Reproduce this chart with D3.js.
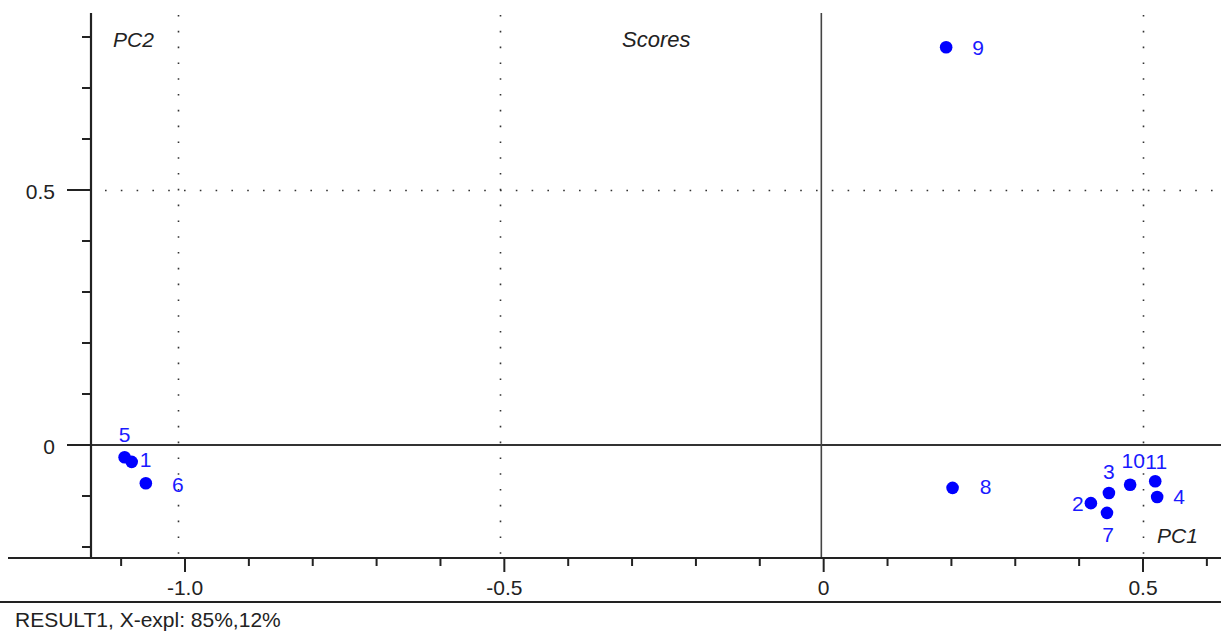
<!DOCTYPE html>
<html>
<head>
<meta charset="utf-8">
<script src="https://cdn.jsdelivr.net/npm/d3@7"></script>
<style>
  html, body { margin: 0; padding: 0; background: #fff; }
  svg { display: block; }
  text { font-family: "Liberation Sans", Arial, sans-serif; }
</style>
</head>
<body>
<svg id="chart" width="1221" height="634"></svg>
<script>
// PCA score plot: samples on PC1 / PC2
const sampleIds = ["1", "2", "3", "4", "5", "6", "7", "8", "9", "10", "11"];
const pc1Scores = [-1.072, 0.419, 0.447, 0.522, -1.083, -1.050, 0.444, 0.204, 0.194, 0.480, 0.519];
const pc2Scores = [-0.033, -0.114, -0.094, -0.102, -0.024, -0.075, -0.133, -0.084, 0.780, -0.078, -0.071];

// where each sample number sits relative to its dot, in pixels
const labelOffsets = [[14, -2], [-13, 0], [0, -22], [22, -1], [0, -23], [32, 1], [1, 22], [33, -1], [32, 0], [3, -24], [1, -20]];

const xMajorTicks = [-1.0, -0.5, 0, 0.5];
const xTickLabels = ["-1.0", "-0.5", "0", "0.5"];
const yMajorTicks = [0, 0.5];
const yTickLabels = ["0", "0.5"];
const gridX = [-1.0, -0.5, 0.5];
const gridY = [0.5];

const W = 1221, H = 634;
const plot = { left: 91, right: 1221, top: 13, bottom: 558 };
const axisColor = "#222";
const pointColor = "#0000ff";
const fs = 21;

const svg = d3.select("#chart");

// scale for the score area
const x = d3.scaleLinear().domain([-1, 0.5]).range([178, 1143]);
const y = d3.scaleLinear().domain([0, 0.5]).range([445, 190]);
// scale for the tick strip below the plot
const xAxisScale = d3.scaleLinear().domain([-1, 0.5]).range([185, 1143]);

// dotted grid
const grid = svg.append("g")
  .attr("stroke", "#333")
  .attr("stroke-width", 1.6)
  .attr("stroke-dasharray", "1.6 14.2");
grid.selectAll("line.gx").data(gridX).join("line")
  .attr("x1", d => Math.round(x(d)) + 0.5).attr("x2", d => Math.round(x(d)) + 0.5)
  .attr("y1", plot.top + 2).attr("y2", plot.bottom);
grid.selectAll("line.gy").data(gridY).join("line")
  .attr("x1", plot.left + 14).attr("x2", plot.right)
  .attr("y1", d => Math.round(y(d)) + 0.5).attr("y2", d => Math.round(y(d)) + 0.5);

// zero lines
svg.append("line")
  .attr("x1", 67).attr("x2", W)
  .attr("y1", y(0)).attr("y2", y(0))
  .attr("stroke", "#333").attr("stroke-width", 2);
svg.append("line")
  .attr("x1", x(0)).attr("x2", x(0))
  .attr("y1", plot.top).attr("y2", plot.bottom)
  .attr("stroke", "#444").attr("stroke-width", 1.6);

// left axis: line, minor and major ticks
svg.append("line")
  .attr("x1", plot.left).attr("x2", plot.left)
  .attr("y1", plot.top).attr("y2", plot.bottom)
  .attr("stroke", axisColor).attr("stroke-width", 2.2);
const yMinor = d3.range(-2, 9).map(i => i / 10);
svg.append("g").selectAll("line").data(yMinor).join("line")
  .attr("x1", d => yMajorTicks.some(m => Math.abs(m - d) < 1e-9) ? 67 : 82)
  .attr("x2", plot.left)
  .attr("y1", d => y(d)).attr("y2", d => y(d))
  .attr("stroke", axisColor).attr("stroke-width", 2);
svg.append("g").selectAll("text").data(yMajorTicks).join("text")
  .attr("x", 55).attr("y", d => y(d) + 8.5)
  .attr("text-anchor", "end")
  .attr("font-size", fs).attr("fill", axisColor)
  .text((d, i) => yTickLabels[i]);

// bottom axis: line, ticks, labels
svg.append("line")
  .attr("x1", 8).attr("x2", W)
  .attr("y1", plot.bottom).attr("y2", plot.bottom)
  .attr("stroke", axisColor).attr("stroke-width", 2.2);
const xMinor = d3.range(-11, 7).map(i => i / 10);
svg.append("g").selectAll("line").data(xMinor).join("line")
  .attr("x1", d => xAxisScale(d)).attr("x2", d => xAxisScale(d))
  .attr("y1", plot.bottom)
  .attr("y2", d => xMajorTicks.some(m => Math.abs(m - d) < 1e-9) ? 572 : 566)
  .attr("stroke", axisColor).attr("stroke-width", 2);
svg.append("g").selectAll("text").data(xMajorTicks).join("text")
  .attr("x", d => xAxisScale(d)).attr("y", 595)
  .attr("text-anchor", "middle")
  .attr("font-size", fs).attr("fill", axisColor)
  .text((d, i) => xTickLabels[i]);

// rule above the caption
svg.append("line")
  .attr("x1", 0).attr("x2", W)
  .attr("y1", 602).attr("y2", 602)
  .attr("stroke", axisColor).attr("stroke-width", 2);

// titles
svg.append("text").attr("x", 113).attr("y", 47)
  .attr("font-size", fs).attr("font-style", "italic").attr("fill", axisColor).text("PC2");
svg.append("text").attr("x", 622).attr("y", 47)
  .attr("font-size", 22).attr("font-style", "italic").attr("fill", axisColor).text("Scores");
svg.append("text").attr("x", 1157).attr("y", 543)
  .attr("font-size", fs).attr("font-style", "italic").attr("fill", axisColor).text("PC1");
svg.append("text").attr("x", 15).attr("y", 627)
  .attr("font-size", fs).attr("fill", axisColor).text("RESULT1, X-expl: 85%,12%");

// sample scores
const samples = sampleIds.map((id, i) => ({ id, pc1: pc1Scores[i], pc2: pc2Scores[i], off: labelOffsets[i] }));
svg.append("g").selectAll("circle").data(samples).join("circle")
  .attr("cx", d => x(d.pc1)).attr("cy", d => y(d.pc2))
  .attr("r", 6.3).attr("fill", pointColor);
svg.append("g").selectAll("text").data(samples).join("text")
  .attr("x", d => x(d.pc1) + d.off[0])
  .attr("y", d => y(d.pc2) + d.off[1] + 7.6)
  .attr("text-anchor", "middle")
  .attr("font-size", fs).attr("fill", "#1a1aff")
  .text(d => d.id);
</script>
</body>
</html>
